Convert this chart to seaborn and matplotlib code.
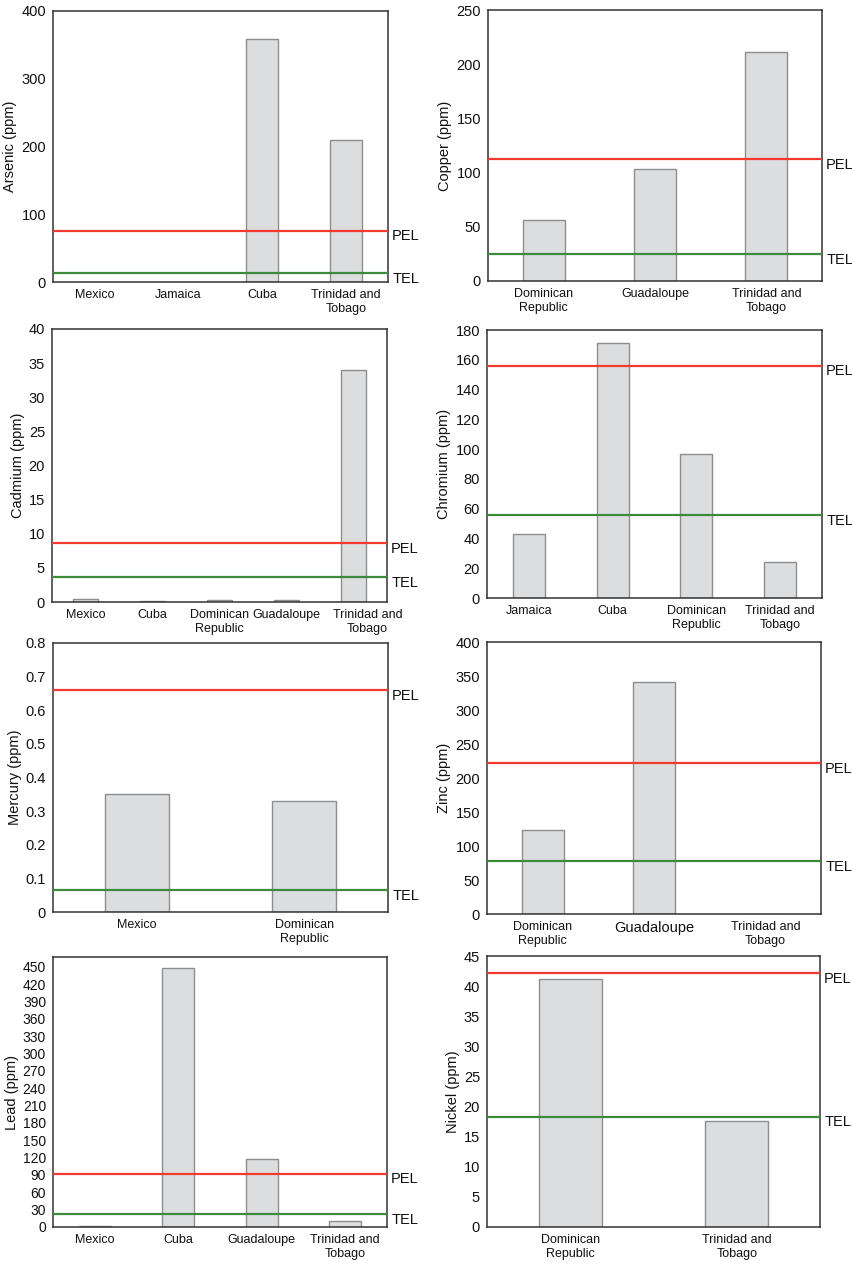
import matplotlib
matplotlib.use("Agg")
import matplotlib.pyplot as plt
import matplotlib.transforms as mtransforms
import seaborn as sns
import pandas as pd

# ---------------- data ----------------
arsenic_countries = ["Mexico", "Jamaica", "Cuba", "Trinidad and\nTobago"]
arsenic_values = [0.6, 0.6, 358, 210]
arsenic_pel, arsenic_tel = 76, 12.8

copper_countries = ["Dominican\nRepublic", "Guadaloupe", "Trinidad and\nTobago"]
copper_values = [56, 103, 211]
copper_pel, copper_tel = 112.5, 24.5

cadmium_countries = ["Mexico", "Cuba", "Dominican\nRepublic", "Guadaloupe", "Trinidad and\nTobago"]
cadmium_values = [0.45, 0.1, 0.25, 0.3, 34]
cadmium_pel, cadmium_tel = 8.6, 3.6

chromium_countries = ["Jamaica", "Cuba", "Dominican\nRepublic", "Trinidad and\nTobago"]
chromium_values = [43, 171, 97, 24.4]
chromium_pel, chromium_tel = 156, 55.5

mercury_countries = ["Mexico", "Dominican\nRepublic"]
mercury_values = [0.35, 0.331]
mercury_pel, mercury_tel = 0.66, 0.065

zinc_countries = ["Dominican\nRepublic", "Guadaloupe", "Trinidad and\nTobago"]
zinc_values = [124, 341, 0.5]
zinc_pel, zinc_tel = 222, 77.5

lead_countries = ["Mexico", "Cuba", "Guadaloupe", "Trinidad and\nTobago"]
lead_values = [2, 448, 118, 10]
lead_pel, lead_tel = 92, 22.5

nickel_countries = ["Dominican\nRepublic", "Trinidad and\nTobago"]
nickel_values = [41.1, 17.6]
nickel_pel, nickel_tel = 42.1, 18.3

# ---------------- style ----------------
sns.set_theme(style="white")
plt.rcParams["font.family"] = ["Liberation Sans", "DejaVu Sans"]

W, H = 853, 1271
fig = plt.figure(figsize=(W / 100, H / 100), dpi=100)

def add_axes(l, t, r, b):
    return fig.add_axes([l / W, 1 - b / H, (r - l) / W, (b - t) / H])

BAR_FACE = "#dcdddf"
BAR_EDGE = "#8e8e8e"
RED = "#f23a2f"
GREEN = "#3c8a3c"

def panel(ax, cats, vals, pel, tel, ylabel, ymax, yticks, big_label=None,
          ytick_size=10.5, shift_last=0):
    df = pd.DataFrame({"country": cats, "value": vals})
    sns.barplot(data=df, x="country", y="value", order=cats, ax=ax,
                color=BAR_FACE, saturation=1, width=0.38,
                edgecolor=BAR_EDGE, linewidth=1.0)
    ax.set_xlim(-0.5, len(cats) - 0.5)
    ax.set_ylim(0, ymax)
    ax.set_yticks(yticks)
    ax.yaxis.set_major_formatter(matplotlib.ticker.FuncFormatter(
        lambda v, p: f"{v:g}"))
    ax.axhline(pel, color=RED, lw=1.6, zorder=5)
    ax.axhline(tel, color=GREEN, lw=1.6, zorder=5)
    trans = mtransforms.blended_transform_factory(ax.transAxes, ax.transData)
    for val, lab in ((pel, "PEL"), (tel, "TEL")):
        ax.annotate(lab, xy=(1.0, val), xycoords=trans, xytext=(3, -4),
                    textcoords="offset points", va="center", ha="left",
                    fontsize=10.5, color="#111111", annotation_clip=False)
    ax.set_xlabel("")
    ax.set_ylabel(ylabel, fontsize=10.5, color="#111111", labelpad=3)
    ax.tick_params(axis="both", length=0)
    ax.tick_params(axis="y", labelsize=ytick_size, pad=5, colors="#111111")
    ax.tick_params(axis="x", labelsize=9, pad=5, colors="#111111")
    labels = ax.get_xticklabels()
    for lbl in labels:
        lbl.set_linespacing(1.2)
        if big_label is not None and lbl.get_text() == big_label:
            lbl.set_fontsize(10.5)
    if shift_last:
        last = labels[-1]
        last.set_transform(last.get_transform() +
                           mtransforms.ScaledTranslation(shift_last / 100, 0,
                                                         fig.dpi_scale_trans))
    for s in ax.spines.values():
        s.set_visible(True)
        s.set_color("#333333")
        s.set_linewidth(1.1)

ax1 = add_axes(53, 11, 388, 282)
panel(ax1, arsenic_countries, arsenic_values, arsenic_pel, arsenic_tel,
      "Arsenic (ppm)", 400, [0, 100, 200, 300, 400])

ax2 = add_axes(488, 10, 822, 281)
panel(ax2, copper_countries, copper_values, copper_pel, copper_tel,
      "Copper (ppm)", 250, [0, 50, 100, 150, 200, 250])

ax3 = add_axes(52, 329, 387, 602)
panel(ax3, cadmium_countries, cadmium_values, cadmium_pel, cadmium_tel,
      "Cadmium (ppm)", 40, list(range(0, 41, 5)), shift_last=14)

ax4 = add_axes(487, 330, 822, 598)
panel(ax4, chromium_countries, chromium_values, chromium_pel, chromium_tel,
      "Chromium (ppm)", 180, list(range(0, 181, 20)))

ax5 = add_axes(53, 643, 388, 912)
panel(ax5, mercury_countries, mercury_values, mercury_pel, mercury_tel,
      "Mercury (ppm)", 0.8, [0, 0.1, 0.2, 0.3, 0.4, 0.5, 0.6, 0.7, 0.8])

ax6 = add_axes(487, 642, 821, 914)
panel(ax6, zinc_countries, zinc_values, zinc_pel, zinc_tel,
      "Zinc (ppm)", 400, list(range(0, 401, 50)), big_label="Guadaloupe")

ax7 = add_axes(53, 957, 387, 1227)
panel(ax7, lead_countries, lead_values, lead_pel, lead_tel,
      "Lead (ppm)", 467, list(range(0, 451, 30)), ytick_size=10)

ax8 = add_axes(487, 956, 820, 1227)
panel(ax8, nickel_countries, nickel_values, nickel_pel, nickel_tel,
      "Nickel (ppm)", 45, list(range(0, 46, 5)))

fig.savefig("out.png", dpi=100, facecolor="white")
